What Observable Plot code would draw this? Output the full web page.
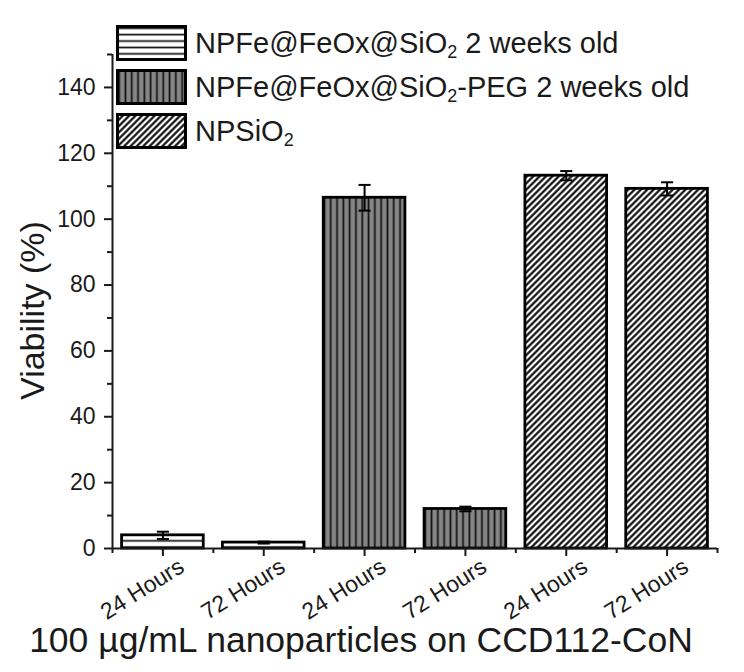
<!DOCTYPE html>
<html><head><meta charset="utf-8">
<script src="https://cdn.jsdelivr.net/npm/d3@7"></script>
<script src="https://cdn.jsdelivr.net/npm/@observablehq/plot@0.6"></script>
<style>
html,body{margin:0;padding:0;background:#fff;}
#wrap{position:relative;width:744px;height:672px;font-family:"Liberation Sans",Arial,sans-serif;color:#1a1a1a;}
#legend{position:absolute;left:116px;top:25px;}
.row{display:flex;align-items:center;height:36px;margin-bottom:8px;}
.row svg{display:block;flex:none;}
.row span{font-size:29px;margin-left:8px;line-height:1;white-space:nowrap;}
.row sub{font-size:0.62em;vertical-align:-0.28em;line-height:0;}
</style></head>
<body>
<svg width="0" height="0" style="position:absolute">
<defs>
<pattern id="pH" patternUnits="userSpaceOnUse" width="8" height="6.4"><rect width="8" height="6.4" fill="#fff"/><rect y="2.4" width="8" height="1.7" fill="#111"/></pattern>
<pattern id="pV" patternUnits="userSpaceOnUse" width="6.3" height="8"><rect width="6.3" height="8" fill="#858585"/><rect x="2.3" width="1.7" height="8" fill="#111"/></pattern>
<pattern id="pD" patternUnits="userSpaceOnUse" width="4.5" height="8" patternTransform="rotate(45)"><rect width="4.5" height="8" fill="#fff"/><rect x="1.2" width="2.1" height="8" fill="#000"/></pattern>
</defs></svg>
<div id="wrap"><div id="legend"></div></div>
<script>
// ---- data ----
const tickLabels = ["24 Hours","72 Hours","24 Hours","72 Hours","24 Hours","72 Hours"];
const groupOf = [0,0,1,1,2,2];
const viability = [4.0, 1.8, 106.5, 12.0, 113.2, 109.2];
const errors = [1.1, 0.3, 3.9, 0.7, 1.4, 2.0];
const seriesNames = ["NPFe@FeOx@SiO<sub>2</sub> 2 weeks old","NPFe@FeOx@SiO<sub>2</sub>-PEG 2 weeks old","NPSiO<sub>2</sub>"];
const patterns = ["url(#pH)","url(#pV)","url(#pD)"];
const yMajor = [0,20,40,60,80,100,120,140];
const yMinor = [10,30,50,70,90,110,130,150];
const xMajor = [1,2,3,4,5,6];
const xMinor = [0.5,1.5,2.5,3.5,4.5,5.5,6.5];
const xTitle = "100 µg/mL nanoparticles on CCD112-CoN";
const yTitle = "Viability (%)";

const data = viability.map((v,k)=>({i:k+1, v, e:errors[k], g:groupOf[k]}));
const ink = "#1a1a1a";
const hw = 0.405, cap = 0.06;

const barMarks = [0,1,2].map(g => Plot.rect(data.filter(d=>d.g===g), {
  x1: d=>d.i-hw, x2: d=>d.i+hw, y1: 0, y2: "v",
  fill: patterns[g], stroke: "#000", strokeWidth: 2.8
}));

const chart = Plot.plot({
  width: 744, height: 672,
  marginLeft: 112, marginRight: 27, marginTop: 54, marginBottom: 124,
  style: {fontFamily: '"Liberation Sans", Arial, sans-serif', color: ink, background: "transparent"},
  x: {domain: [0.5, 6.5]},
  y: {domain: [0, 150]},
  marks: [
    ...barMarks,
    Plot.ruleX(data, {x: "i", y1: d=>d.v-d.e, y2: d=>d.v+d.e, stroke: "#000", strokeWidth: 2}),
    Plot.link(data, {x1: d=>d.i-cap, x2: d=>d.i+cap, y1: d=>d.v+d.e, y2: d=>d.v+d.e, stroke: "#000", strokeWidth: 2}),
    Plot.link(data, {x1: d=>d.i-cap, x2: d=>d.i+cap, y1: d=>d.v-d.e, y2: d=>d.v-d.e, stroke: "#000", strokeWidth: 2}),
    Plot.ruleY([0], {x1: 0.5, x2: 6.5, stroke: ink, strokeWidth: 2}),
    Plot.ruleX([0.5], {y1: 0, y2: 150, stroke: ink, strokeWidth: 2}),
    Plot.axisY({ticks: yMajor, tickSize: 8, tickFormat: () => "", strokeWidth: 2, color: ink, label: null}),
    Plot.axisY({ticks: yMinor, tickSize: 5, tickFormat: () => "", strokeWidth: 2, color: ink, label: null}),
    Plot.axisX({ticks: xMajor, tickSize: 8, tickFormat: () => "", strokeWidth: 2, color: ink, label: null}),
    Plot.axisX({ticks: xMinor, tickSize: 5, tickFormat: () => "", strokeWidth: 2, color: ink, label: null}),
    Plot.text(yMajor, {x: 0.5, y: d => d, text: d => String(d), textAnchor: "end", lineAnchor: "middle", dx: -17, fontSize: 23, fill: ink}),
    Plot.text(xMajor, {x: d => d, y: 0, text: d => tickLabels[d-1], textAnchor: "end", lineAnchor: "middle", rotate: -32, dx: 19, dy: 16, fontSize: 23, fill: ink}),
    Plot.text([xTitle], {frameAnchor: "bottom", lineAnchor: "middle", textAnchor: "middle", dx: -54, dy: 92, fontSize: 35.5, fill: ink}),
    Plot.text([yTitle], {frameAnchor: "left", lineAnchor: "middle", textAnchor: "middle", rotate: -90, dx: -79, dy: 9, fontSize: 34, fill: ink})
  ]
});
document.getElementById("wrap").prepend(chart);

const legend = document.getElementById("legend");
seriesNames.forEach((name, g) => {
  const row = document.createElement("div");
  row.className = "row";
  row.innerHTML = `<svg width="71" height="36"><rect x="1.5" y="1.5" width="68" height="33" fill="${patterns[g]}" stroke="#000" stroke-width="3"/></svg><span>${name}</span>`;
  legend.appendChild(row);
});
</script>
</body></html>
